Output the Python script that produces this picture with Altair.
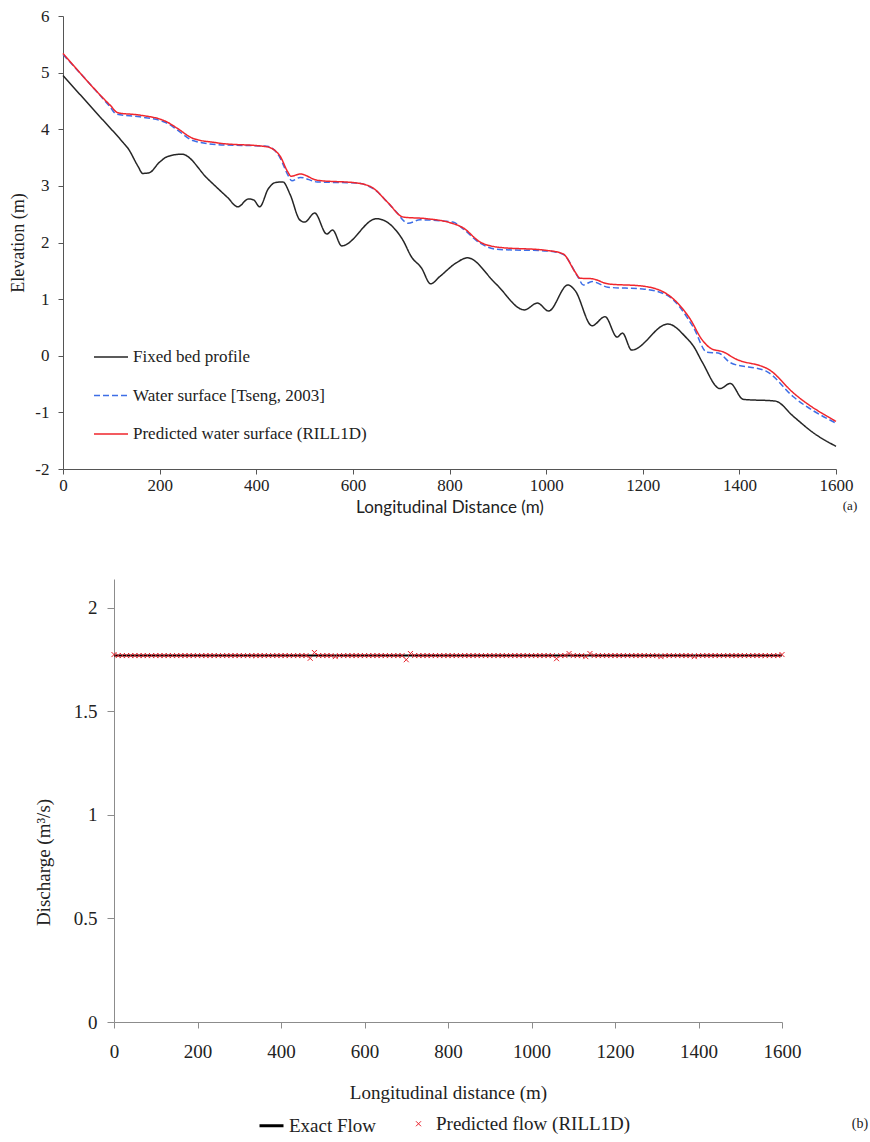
import altair as alt
import pandas as pd

# ---------------- Panel (a): longitudinal profiles ----------------
bed_dist = [0, 67, 125, 134, 155, 165, 178, 200, 217, 246, 300, 340, 362, 384, 395,
            407, 425, 440, 455, 470, 490, 500, 521, 546, 558, 577, 649, 703, 721,
            742, 761, 780, 814, 837, 896, 955, 982, 1005, 1045, 1060, 1095, 1122,
            1147, 1158, 1177, 1252, 1290, 1305, 1323, 1360, 1381, 1408, 1474, 1513,
            1553, 1600]
bed_elev = [4.95, 4.31, 3.76, 3.67, 3.35, 3.22, 3.23, 3.42, 3.52, 3.56, 3.12, 2.80,
            2.63, 2.77, 2.75, 2.63, 2.95, 3.06, 3.07, 2.85, 2.40, 2.36, 2.52, 2.15,
            2.22, 1.94, 2.42, 2.05, 1.75, 1.55, 1.27, 1.40, 1.64, 1.73, 1.27, 0.81,
            0.93, 0.79, 1.25, 1.15, 0.53, 0.69, 0.33, 0.40, 0.10, 0.56, 0.32, 0.17,
            -0.11, -0.58, -0.49, -0.77, -0.80, -1.08, -1.36, -1.60]

tseng_dist = [0, 97, 110, 159, 215, 236, 269, 319, 422, 449, 465, 474, 491, 526,
              609, 642, 687, 714, 739, 807, 828, 863, 898, 1002, 1035, 1066, 1077,
              1095, 1128, 1200, 1250, 1305, 1333, 1356, 1381, 1457, 1511, 1600]
tseng_elev = [5.32, 4.40, 4.27, 4.22, 4.11, 3.99, 3.80, 3.73, 3.70, 3.50, 3.20, 3.09,
              3.15, 3.07, 3.05, 2.95, 2.57, 2.34, 2.40, 2.36, 2.24, 1.99, 1.88, 1.85,
              1.79, 1.39, 1.25, 1.31, 1.21, 1.18, 1.07, 0.50, 0.06, 0.05, -0.12,
              -0.28, -0.72, -1.19]

rill_dist = [0, 97, 114, 159, 215, 236, 269, 319, 422, 449, 465, 472, 491, 526,
             609, 642, 673, 704, 753, 801, 828, 863, 898, 1002, 1035, 1060, 1070,
             1095, 1128, 1200, 1250, 1298, 1323, 1343, 1366, 1391, 1464, 1511, 1600]
rill_elev = [5.34, 4.43, 4.29, 4.25, 4.13, 4.02, 3.84, 3.76, 3.69, 3.53, 3.25, 3.17,
             3.21, 3.10, 3.05, 2.96, 2.70, 2.45, 2.42, 2.35, 2.26, 2.01, 1.92, 1.86,
             1.80, 1.48, 1.37, 1.36, 1.27, 1.23, 1.09, 0.65, 0.28, 0.12, 0.07, -0.05,
             -0.26, -0.65, -1.16]

profile_names = ["Fixed bed profile", "Water surface [Tseng, 2003]",
                 "Predicted water surface (RILL1D)"]
profile_colors = ["#262626", "#3d6ee6", "#f0262d"]
profile_dashes = [[1, 0], [6, 3], [1, 0]]

# ---------------- Panel (b): discharge along the rill ----------------
exact_dist = [0, 1600]
exact_q = [1.77, 1.77]

pred_dist = list(range(0, 1601, 10))
pred_q = [
    1.775, 1.77, 1.77, 1.77, 1.77, 1.77, 1.77, 1.77, 1.77, 1.77,    # 0-90
    1.77, 1.77, 1.77, 1.77, 1.77, 1.77, 1.77, 1.77, 1.77, 1.77,     # 100-190
    1.77, 1.77, 1.77, 1.77, 1.77, 1.77, 1.77, 1.77, 1.77, 1.77,     # 200-290
    1.77, 1.77, 1.77, 1.77, 1.77, 1.77, 1.77, 1.77, 1.77, 1.77,     # 300-390
    1.77, 1.77, 1.77, 1.77, 1.77, 1.77, 1.77, 1.757, 1.785, 1.77,   # 400-490
    1.77, 1.77, 1.77, 1.765, 1.77, 1.77, 1.77, 1.77, 1.77, 1.77,    # 500-590
    1.77, 1.77, 1.77, 1.77, 1.77, 1.77, 1.77, 1.77, 1.77, 1.77,     # 600-690
    1.75, 1.78, 1.77, 1.77, 1.77, 1.77, 1.77, 1.77, 1.77, 1.77,     # 700-790
    1.77, 1.77, 1.77, 1.77, 1.77, 1.77, 1.77, 1.77, 1.77, 1.77,     # 800-890
    1.77, 1.77, 1.77, 1.77, 1.77, 1.77, 1.77, 1.77, 1.77, 1.77,     # 900-990
    1.77, 1.77, 1.77, 1.77, 1.77, 1.77, 1.755, 1.77, 1.77, 1.78,    # 1000-1090
    1.77, 1.77, 1.77, 1.765, 1.78, 1.77, 1.77, 1.77, 1.77, 1.77,    # 1100-1190
    1.77, 1.77, 1.77, 1.77, 1.77, 1.77, 1.77, 1.77, 1.77, 1.77,     # 1200-1290
    1.77, 1.765, 1.77, 1.77, 1.77, 1.77, 1.77, 1.77, 1.77, 1.765,   # 1300-1390
    1.77, 1.77, 1.77, 1.77, 1.77, 1.77, 1.77, 1.77, 1.77, 1.77,     # 1400-1490
    1.77, 1.77, 1.77, 1.77, 1.77, 1.77, 1.77, 1.77, 1.77, 1.77,     # 1500-1590
    1.775,                                                          # 1600
]

flow_names = ["Exact Flow", "Predicted flow (RILL1D)"]
flow_colors = ["#000000", "#e8202a"]
X_SHAPE = "M-1,-1L1,1M-1,1L1,-1"

SERIF = "Liberation Serif"
PLAIN_LABEL = "'' + datum.value"

# ---------------- tables ----------------
profiles = pd.concat([
    pd.DataFrame({"dist": bed_dist, "elev": bed_elev, "series": profile_names[0]}),
    pd.DataFrame({"dist": tseng_dist, "elev": tseng_elev, "series": profile_names[1]}),
    pd.DataFrame({"dist": rill_dist, "elev": rill_elev, "series": profile_names[2]}),
], ignore_index=True)
profiles["k"] = profiles["series"].map({n: i for i, n in enumerate(profile_names)})

exact = pd.DataFrame({"dist": exact_dist, "q": exact_q})
pred = pd.DataFrame({"dist": pred_dist, "q": pred_q, "kind": flow_names[1]})

# ---------------- panel (a) ----------------
legend_a = dict(
    title=None, orient="none", legendX=30, legendY=323, padding=0,
    symbolType="stroke", symbolSize=1156, symbolStrokeWidth=1.5,
    labelFont=SERIF, labelFontSize=17, labelColor="#222222", labelLimit=0,
    labelOffset=4, rowPadding=12.5,
)

panel_a = alt.Chart(profiles).mark_line(
    strokeWidth=1.5, interpolate="monotone"
).encode(
    x=alt.X("dist:Q",
            scale=alt.Scale(domain=[0, 1600], range=[0, 773], nice=False, zero=False),
            axis=alt.Axis(orient="bottom", offset=-553, values=list(range(0, 1601, 200)),
                          labelExpr=PLAIN_LABEL, labelFlush=False,
                          title="Longitudinal Distance (m)", titleFont="Lato",
                          titleFontSize=17, titleFontWeight="normal", titleColor="#222222",
                          titlePadding=6, labelFont=SERIF, labelFontSize=17,
                          labelColor="#222222", labelPadding=3, tickSize=5,
                          domainColor="#555555", tickColor="#555555", grid=False)),
    y=alt.Y("elev:Q",
            scale=alt.Scale(domain=[-2, 6], range=[453, 0], nice=False, zero=False),
            axis=alt.Axis(orient="left", offset=0, values=list(range(-2, 7)),
                          labelExpr=PLAIN_LABEL, labelFlush=False,
                          title="Elevation (m)", titleFont=SERIF, titleFontSize=18,
                          titleFontWeight="normal", titleColor="#222222", titlePadding=7,
                          labelFont=SERIF, labelFontSize=17, labelColor="#222222",
                          labelPadding=9, tickSize=5, domainColor="#555555",
                          tickColor="#555555", grid=False)),
    color=alt.Color("series:N",
                    scale=alt.Scale(domain=profile_names, range=profile_colors),
                    legend=alt.Legend(**legend_a)),
    strokeDash=alt.StrokeDash("series:N",
                              scale=alt.Scale(domain=profile_names, range=profile_dashes),
                              legend=alt.Legend(**legend_a)),
    order="k:Q",
)

# ---------------- panel (b) ----------------
x_b = alt.X("dist:Q",
            scale=alt.Scale(domain=[0, 1600], range=[51, 719], nice=False, zero=False),
            axis=alt.Axis(orient="bottom", offset=0, values=list(range(0, 1601, 200)),
                          labelExpr=PLAIN_LABEL, labelFlush=False,
                          title="Longitudinal distance (m)", titleFont=SERIF,
                          titleFontSize=19, titleFontWeight="normal", titleColor="#222222",
                          titlePadding=22, labelFont=SERIF, labelFontSize=19,
                          labelColor="#222222", labelPadding=14, tickSize=6,
                          domainColor="#8c8c8c", tickColor="#8c8c8c", grid=False))
y_b = alt.Y("q:Q",
            scale=alt.Scale(domain=[0, 2.14], range=[1006, 563], nice=False, zero=False),
            axis=alt.Axis(orient="left", offset=-51, values=[0, 0.5, 1, 1.5, 2],
                          labelExpr=PLAIN_LABEL, labelFlush=False,
                          title="Discharge (m³/s)", titleFont=SERIF,
                          titleFontSize=19, titleFontWeight="normal", titleColor="#222222",
                          titlePadding=20, titleY=846, labelFont=SERIF, labelFontSize=19,
                          labelColor="#222222", labelPadding=10, tickSize=7,
                          domainColor="#8c8c8c", tickColor="#8c8c8c", grid=False))

exact_line = alt.Chart(exact).mark_line(color="#000000", strokeWidth=2).encode(
    x=x_b, y=y_b)

legend_b = dict(
    title=None, orient="none", legendX=195, legendY=1096, padding=0,
    direction="horizontal", columns=2, columnPadding=28, labelLimit=0,
    labelFont=SERIF, labelFontSize=19, labelColor="#222222", labelOffset=4,
)

pred_pts = alt.Chart(pred).mark_point(filled=False, opacity=1).encode(
    x=x_b,
    y=y_b,
    color=alt.Color("kind:O", scale=alt.Scale(domain=flow_names, range=flow_colors),
                    legend=alt.Legend(**legend_b)),
    shape=alt.Shape("kind:O", scale=alt.Scale(domain=flow_names, range=["stroke", X_SHAPE]),
                    legend=alt.Legend(**legend_b)),
    size=alt.Size("kind:O", scale=alt.Scale(domain=flow_names, range=[576, 25]),
                  legend=alt.Legend(**legend_b)),
    strokeWidth=alt.StrokeWidth("kind:O", scale=alt.Scale(domain=flow_names, range=[3, 1]),
                                legend=alt.Legend(**legend_b)),
)

panel_b = alt.layer(exact_line, pred_pts)

# ---------------- panel tags ----------------
tag_a = alt.Chart(pd.DataFrame({"tag": ["(a)"]})).mark_text(
    font=SERIF, fontSize=13, color="#222222", align="center", baseline="middle"
).encode(text="tag:N", x=alt.value(787), y=alt.value(490))
tag_b = alt.Chart(pd.DataFrame({"tag": ["(b)"]})).mark_text(
    font=SERIF, fontSize=14, color="#222222", align="center", baseline="middle"
).encode(text="tag:N", x=alt.value(797), y=alt.value(1108))

chart = alt.layer(panel_a, panel_b, tag_a, tag_b).resolve_scale(
    x="independent", y="independent", color="independent",
    strokeDash="independent", shape="independent", size="independent",
    strokeWidth="independent",
).properties(
    width=773, height=1006,
    autosize=alt.AutoSizeParams(type="none"),
    padding={"left": 63, "top": 16, "right": 34, "bottom": 120},
    background="white",
).configure_view(stroke=None)

chart.save("out.html", embed_options={"renderer": "svg", "actions": False})
